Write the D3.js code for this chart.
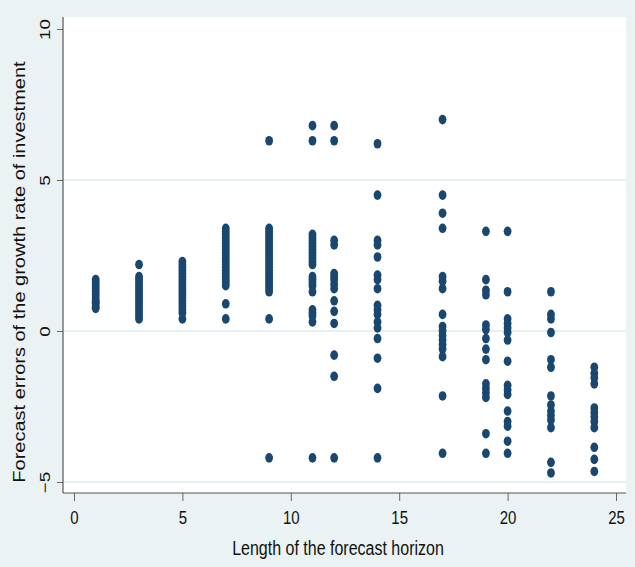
<!DOCTYPE html>
<html>
<head>
<meta charset="utf-8">
<script src="https://cdn.jsdelivr.net/npm/d3@7"></script>
<style>
  body { margin: 0; background: #eaf2f3; }
  svg { display: block; font-family: "Liberation Sans", Arial, sans-serif; }
</style>
</head>
<body>
<svg width="635" height="567"></svg>
<script>
// forecast horizon (x) and the errors observed at each horizon (y)
var horizons = [1, 3, 5, 7, 9, 11, 12, 14, 17, 19, 20, 22, 24];

var errors = [
  [1.7, 1.6, 1.5, 1.4, 1.3, 1.2, 1.1, 1.0, 0.95, 0.9, 0.8, 0.75],
  [2.2, 1.8, 1.7, 1.6, 1.5, 1.4, 1.3, 1.2, 1.1, 1.0, 0.9, 0.8, 0.7, 0.6, 0.5, 0.4],
  [2.3, 2.2, 2.1, 2.0, 1.9, 1.8, 1.7, 1.6, 1.5, 1.4, 1.3, 1.2, 1.1, 1.0, 0.9, 0.8, 0.7, 0.6, 0.4],
  [3.4, 3.3, 3.2, 3.1, 3.0, 2.9, 2.8, 2.7, 2.6, 2.5, 2.4, 2.3, 2.2, 2.1, 2.0, 1.9, 1.8, 1.7, 1.6, 1.5, 0.9, 0.4],
  [6.3, 3.4, 3.3, 3.2, 3.1, 3.0, 2.9, 2.8, 2.7, 2.6, 2.5, 2.4, 2.3, 2.2, 2.1, 2.0, 1.9, 1.8, 1.7, 1.6, 1.5, 1.4, 1.3, 0.4, -4.2],
  [6.8, 6.3, 3.2, 3.1, 3.0, 2.9, 2.8, 2.7, 2.6, 2.5, 2.4, 2.3, 2.2, 1.8, 1.7, 1.6, 1.5, 1.3, 0.7, 0.6, 0.5, 0.3, -4.2],
  [6.8, 6.3, 3.0, 2.85, 1.9, 1.8, 1.7, 1.55, 1.4, 1.0, 0.65, 0.25, -0.8, -1.5, -4.2],
  [6.2, 4.5, 3.0, 2.85, 2.45, 1.85, 1.7, 1.4, 0.85, 0.7, 0.55, 0.3, 0.1, -0.25, -0.9, -1.9, -4.2],
  [7.0, 4.5, 3.9, 3.4, 1.8, 1.65, 1.4, 0.55, 0.15, 0.0, -0.15, -0.3, -0.45, -0.6, -0.85, -2.15, -4.05],
  [3.3, 1.7, 1.35, 1.2, 0.2, 0.05, -0.25, -0.6, -0.95, -1.75, -1.9, -2.05, -2.2, -3.4, -4.05],
  [3.3, 1.3, 0.4, 0.25, 0.1, -0.05, -0.3, -1.0, -1.8, -1.95, -2.1, -2.65, -3.0, -3.15, -3.65, -4.05],
  [1.3, 0.55, 0.4, -0.05, -0.95, -1.2, -2.15, -2.45, -2.65, -2.8, -2.95, -3.2, -4.35, -4.7],
  [-1.2, -1.4, -1.55, -1.75, -2.55, -2.7, -2.85, -3.0, -3.2, -3.85, -4.25, -4.65]
];

var xTicks = [0, 5, 10, 15, 20, 25];
var yTicks = [-5, 0, 5, 10];
var gridTicks = [-5, 0, 5];

var xLabel = "Length of the forecast horizon";
var yLabel = "Forecast errors of the growth rate of investment";

// picture looks stretched vertically, so text gets the same squeeze
var stretch = 1.25;
var plotLeft = 63, plotRight = 626, plotTop = 17, plotBottom = 493;

var points = [];
horizons.forEach(function(h, i) {
    errors[i].forEach(function(e) { points.push({ x: h, y: e }); });
});

var svg = d3.select("svg");

var x = d3.scaleLinear().domain([0, 25]).range([74, 616]);
var y = d3.scaleLinear().domain([-5, 10]).range([482, 29]);

svg.append("rect")
    .attr("x", plotLeft).attr("y", plotTop)
    .attr("width", plotRight - plotLeft).attr("height", plotBottom - plotTop)
    .attr("fill", "#ffffff");

svg.append("g").selectAll("line")
    .data(gridTicks)
    .enter().append("line")
    .attr("x1", plotLeft).attr("x2", plotRight)
    .attr("y1", function(d) { return y(d); })
    .attr("y2", function(d) { return y(d); })
    .attr("stroke", "#e6eff2")
    .attr("stroke-width", 2);

svg.append("g").selectAll("ellipse")
    .data(points)
    .enter().append("ellipse")
    .attr("cx", function(d) { return x(d.x); })
    .attr("cy", function(d) { return y(d.y); })
    .attr("rx", 3.9)
    .attr("ry", 4.8)
    .attr("fill", "#1a476f");

// axes
var yAxis = svg.append("g")
    .attr("transform", "translate(" + plotLeft + ",0)")
    .call(d3.axisLeft(y).tickValues(yTicks).tickSize(6).tickSizeOuter(0));
yAxis.select(".domain").remove();
yAxis.selectAll("line").attr("stroke", "#666");
yAxis.selectAll("text")
    .attr("x", 0).attr("y", 0).attr("dy", 0)
    .attr("text-anchor", "middle")
    .attr("transform", "translate(-13,0) scale(1," + stretch + ") rotate(-90)")
    .attr("fill", "#111")
    .style("font-size", "15px");

var xAxis = svg.append("g")
    .attr("transform", "translate(0," + plotBottom + ")")
    .call(d3.axisBottom(x).tickValues(xTicks).tickSize(8).tickSizeOuter(0));
xAxis.select(".domain").remove();
xAxis.selectAll("line").attr("stroke", "#666");
xAxis.selectAll("text")
    .attr("x", 0).attr("y", 0).attr("dy", 0)
    .attr("text-anchor", "middle")
    .attr("transform", "translate(0,31) scale(1," + stretch + ")")
    .attr("fill", "#111")
    .style("font-size", "15px");

svg.append("line")
    .attr("x1", plotLeft).attr("x2", plotLeft)
    .attr("y1", plotTop).attr("y2", plotBottom)
    .attr("stroke", "#555").attr("stroke-width", 1.2);
svg.append("line")
    .attr("x1", plotLeft).attr("x2", plotRight)
    .attr("y1", plotBottom).attr("y2", plotBottom)
    .attr("stroke", "#555").attr("stroke-width", 1.2);

svg.append("text")
    .attr("transform", "translate(338,555) scale(1," + stretch + ")")
    .attr("text-anchor", "middle")
    .attr("fill", "#111")
    .style("font-size", "16px")
    .text(xLabel);

svg.append("text")
    .attr("transform", "translate(25,272) scale(1," + stretch + ") rotate(-90)")
    .attr("text-anchor", "middle")
    .attr("fill", "#111")
    .style("font-size", "16px")
    .text(yLabel);
</script>
</body>
</html>
